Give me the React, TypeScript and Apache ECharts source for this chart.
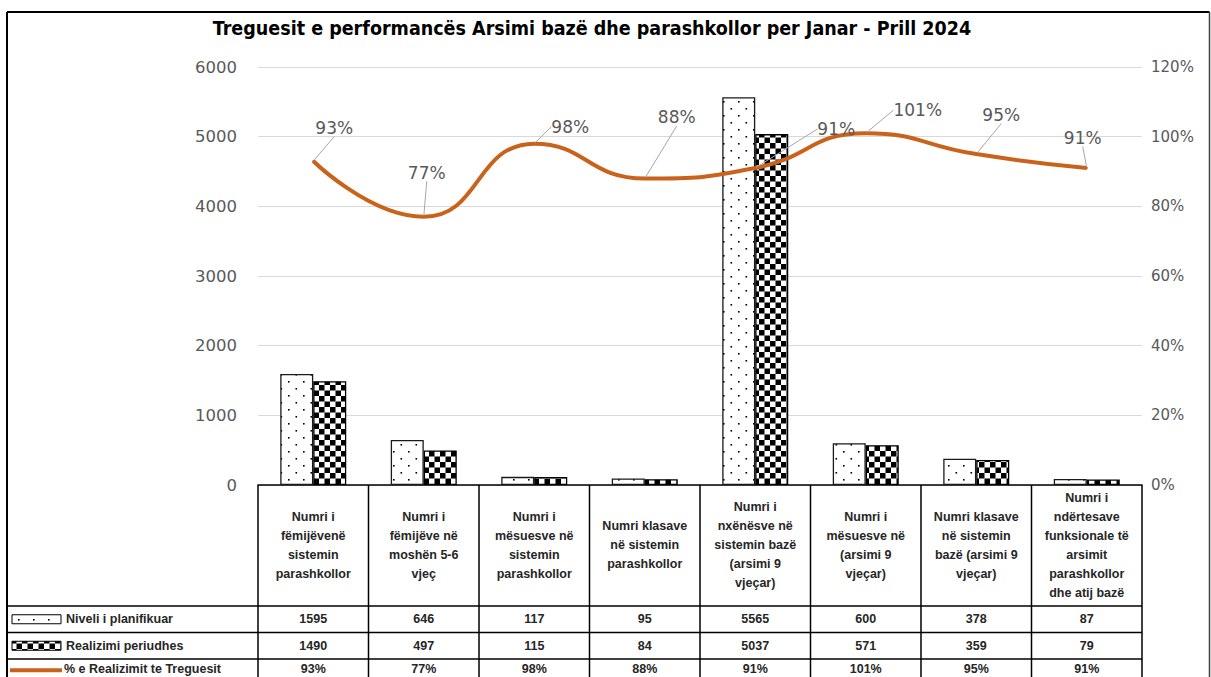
import React, { useEffect, useRef } from "react";
import * as echarts from "echarts";

const chartTitle = "Treguesit e performancës Arsimi bazë dhe parashkollor per Janar - Prill 2024";
const categories = [
  "Numri i\nfëmijëvenë\nsistemin\nparashkollor",
  "Numri i\nfëmijëve në\nmoshën 5-6\nvjeç",
  "Numri i\nmësuesve në\nsistemin\nparashkollor",
  "Numri klasave\nnë sistemin\nparashkollor",
  "Numri i\nnxënësve në\nsistemin bazë\n(arsimi 9\nvjeçar)",
  "Numri i\nmësuesve në\n(arsimi 9\nvjeçar)",
  "Numri klasave\nnë sistemin\nbazë (arsimi 9\nvjeçar)",
  "Numri i\nndërtesave\nfunksionale të\narsimit\nparashkollor\ndhe atij bazë",
];
const planned = [1595, 646, 117, 95, 5565, 600, 378, 87];
const realized = [1490, 497, 115, 84, 5037, 571, 359, 79];
const ratePct = [93, 77, 98, 88, 91, 101, 95, 91];
const seriesNames = ["Niveli i planifikuar", "Realizimi periudhes", "% e Realizimit te Treguesit"];
const leftAxis = { min: 0, max: 6000, interval: 1000 };
const rightAxis = { min: 0, max: 120, interval: 20 };

// label displacement (style only)
const labelShift = [
  [21, -33], [3, -44], [36, -17], [32, -61], [81, -39], [52, -23], [25, -39], [-4, -30],
];

const ORANGE = "#C9621A";
const GRAY = "#595959";

function dotPattern() {
  const c = document.createElement("canvas");
  c.width = 15;
  c.height = 14;
  const g = c.getContext("2d")!;
  g.fillStyle = "#fff";
  g.fillRect(0, 0, 15, 14);
  g.fillStyle = "#000";
  g.fillRect(3, 3, 1.6, 1.6);
  g.fillRect(10.5, 10, 1.6, 1.6);
  return c;
}
function checkPattern() {
  const c = document.createElement("canvas");
  c.width = 11;
  c.height = 11;
  const g = c.getContext("2d")!;
  g.fillStyle = "#fff";
  g.fillRect(0, 0, 11, 11);
  g.fillStyle = "#000";
  g.fillRect(0, 0, 5.5, 5.5);
  g.fillRect(5.5, 5.5, 5.5, 5.5);
  return c;
}

export default function App() {
  const ref = useRef<HTMLDivElement>(null);
  useEffect(() => {
    if (!ref.current) return;
    const chart = echarts.init(ref.current, undefined, { renderer: "svg" });
    const dots = { image: dotPattern(), repeat: "repeat" } as any;
    const checks = { image: checkPattern(), repeat: "repeat" } as any;
    chart.setOption({
      animation: false,
      backgroundColor: "#fff",
      grid: { left: 258, right: 69, top: 67, bottom: 192 },
      xAxis: {
        type: "category",
        data: categories,
        axisLine: { lineStyle: { color: "#000", width: 1.5 } },
        axisTick: { show: false },
        axisLabel: {
          interval: 0,
          margin: 60,
          verticalAlign: "middle",
          lineHeight: 19,
          fontSize: 12.5,
          fontWeight: "bold",
          fontFamily: "Liberation Sans",
          color: "#262626",
        },
      },
      yAxis: [
        {
          type: "value",
          ...leftAxis,
          axisLine: { show: false },
          axisTick: { show: false },
          splitLine: { lineStyle: { color: "#D9D9D9", width: 1.2 } },
          axisLabel: {
            margin: 21,
            fontSize: 16.5,
            color: GRAY,
            fontFamily: "DejaVu Sans",
            formatter: (v: number) => String(v),
          },
        },
        {
          type: "value",
          ...rightAxis,
          position: "right",
          axisLine: { show: false },
          axisTick: { show: false },
          splitLine: { show: false },
          axisLabel: { margin: 9, fontSize: 15, color: GRAY, fontFamily: "DejaVu Sans", formatter: "{value}%" },
        },
      ],
      series: [
        {
          name: seriesNames[0],
          type: "bar",
          data: planned,
          barWidth: 33,
          barGap: "0%",
          itemStyle: { color: dots, borderColor: "#1a1a1a", borderWidth: 1.3 },
        },
        {
          name: seriesNames[1],
          type: "bar",
          data: realized,
          barWidth: 33,
          itemStyle: { color: checks, borderColor: "#000", borderWidth: 1.3 },
        },
        {
          name: seriesNames[2],
          type: "line",
          yAxisIndex: 1,
          data: ratePct,
          smooth: 0.5,
          symbol: "circle",
          symbolSize: 2,
          itemStyle: { color: ORANGE },
          lineStyle: { color: ORANGE, width: 4 },
          label: {
            show: true,
            position: "inside",
            formatter: "{c}%",
            fontSize: 17,
            color: GRAY,
            fontFamily: "DejaVu Sans",
          },
          labelLine: { show: true, lineStyle: { color: "#A6A6A6", width: 1 } },
          labelLayout: (p: any) => ({ dx: labelShift[p.dataIndex][0], dy: labelShift[p.dataIndex][1] }),
        },
      ],
    });

    // Data table drawn below the plot, aligned with the category axis
    const xs = categories.map((c) => chart.convertToPixel({ xAxisIndex: 0 }, c) as number);
    const band = xs[1] - xs[0];
    const y0 = chart.convertToPixel({ yAxisIndex: 0 }, 0) as number;
    const headerBottom = y0 + 121;
    const rowH = 26.5;
    const rowsBottom = [headerBottom + rowH, headerBottom + 2 * rowH, headerBottom + 3 * rowH];
    const tableLeft = xs[0] - band / 2;
    const tableRight = xs[xs.length - 1] + band / 2;
    const frameL = 7;
    const bottom = 700;
    const line = (x1: number, y1: number, x2: number, y2: number, w = 1.5, color = "#000") => ({
      type: "line",
      shape: { x1, y1, x2, y2 },
      style: { stroke: color, lineWidth: w },
      silent: true,
    });
    const g: any[] = [];
    // outer frame
    g.push(line(frameL, 12, 1209.5, 12, 2.2));
    g.push(line(frameL, 12, frameL, bottom, 2));
    g.push(line(1209.5, 12, 1209.5, bottom, 1.5, "#404040"));
    // title
    g.push({
      type: "text",
      x: 592,
      y: 28,
      style: {
        text: chartTitle,
        align: "center",
        verticalAlign: "middle",
        fontSize: 19.5,
        fontWeight: "bold",
        fontFamily: "Liberation Sans Narrow, DejaVu Sans Condensed, sans-serif",
        fill: "#000",
      },
    });
    // vertical table lines
    for (let i = 0; i <= categories.length; i++) {
      const x = tableLeft + i * band;
      g.push(line(x, y0, x, bottom));
    }
    // horizontal lines
    g.push(line(frameL, headerBottom, tableRight, headerBottom));
    rowsBottom.forEach((y) => g.push(line(frameL, y, tableRight, y)));
    const rowVals = [
      planned.map((v) => String(v)),
      realized.map((v) => String(v)),
      ratePct.map((v) => v + "%"),
    ];
    const rowCenters = [headerBottom + rowH / 2, headerBottom + 1.5 * rowH, headerBottom + 2.5 * rowH - 3];
    rowVals.forEach((vals, r) => {
      vals.forEach((t, i) => {
        g.push({
          type: "text",
          x: xs[i],
          y: rowCenters[r],
          style: {
            text: t,
            align: "center",
            verticalAlign: "middle",
            fontSize: 12.5,
            fontWeight: "bold",
            fontFamily: "Liberation Sans",
            fill: "#262626",
          },
        });
      });
      // legend key + name
      if (r < 2) {
        g.push({
          type: "rect",
          shape: { x: 12, y: rowCenters[r] - 4.5, width: 49, height: 9 },
          style: { fill: r === 0 ? dots : checks, stroke: "#000", lineWidth: 1 },
        });
      } else {
        g.push(line(10, rowCenters[r] + 1, 62, rowCenters[r] + 1, 4, ORANGE));
      }
      g.push({
        type: "text",
        x: r < 2 ? 66 : 64,
        y: rowCenters[r],
        style: {
          text: seriesNames[r],
          align: "left",
          verticalAlign: "middle",
          fontSize: 12.5,
          fontWeight: "bold",
          fontFamily: "Liberation Sans",
          fill: "#262626",
        },
      });
    });
    chart.setOption({ graphic: g });
    return () => chart.dispose();
  }, []);
  return (
    <div
      ref={ref}
      style={{ position: "absolute", left: 0, top: 0, width: 1211, height: 677 }}
    />
  );
}
